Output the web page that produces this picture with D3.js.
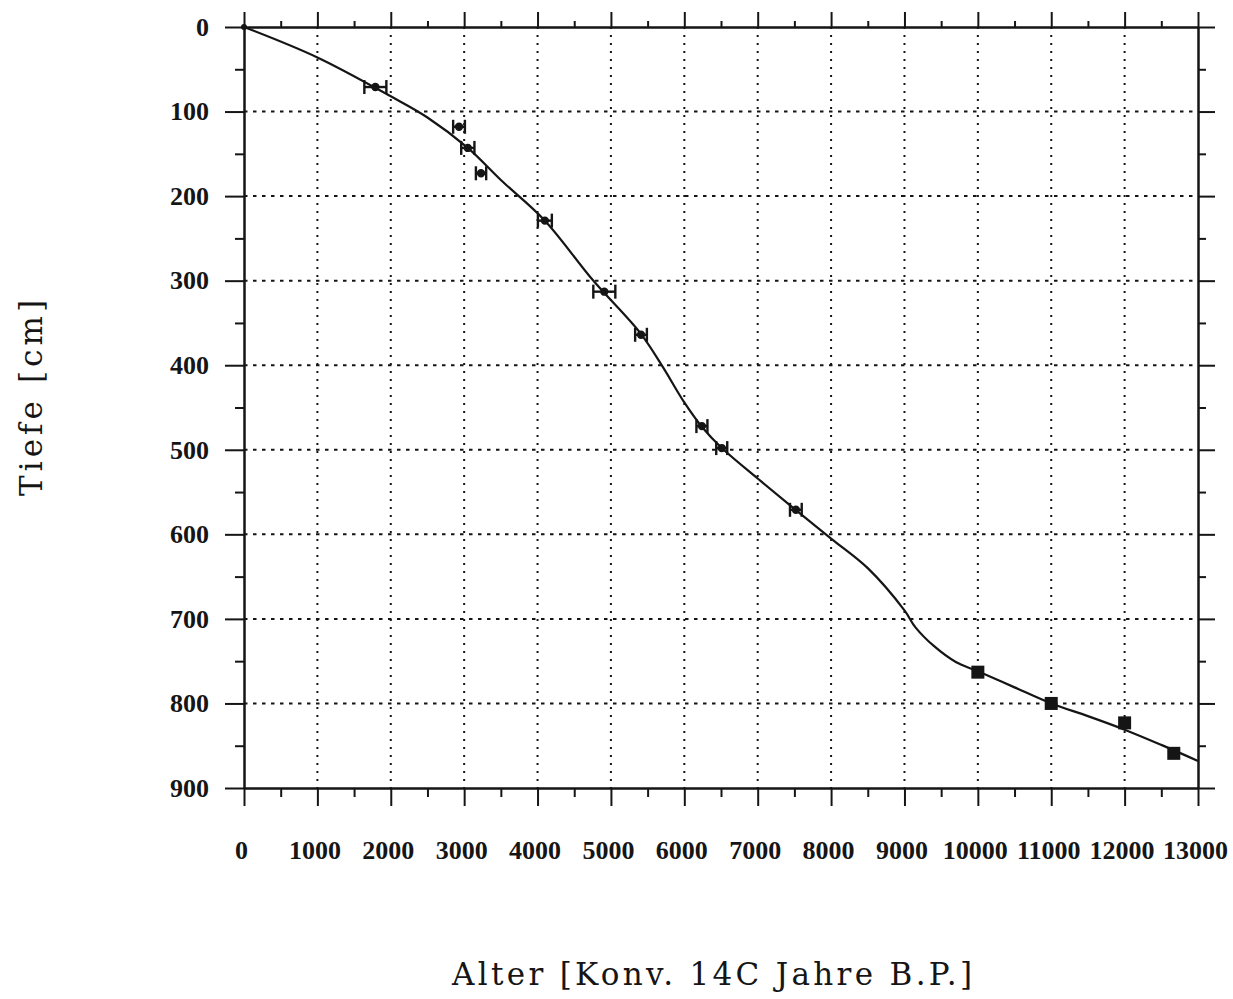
<!DOCTYPE html>
<html>
<head>
<meta charset="utf-8">
<script src="https://d3js.org/d3.v7.min.js"></script>
<style>
  body { margin: 0; background: #fff; }
</style>
</head>
<body>
<div id="chart"></div>
<script>
// age-depth curve (age in 14C years B.P., depth in cm)
var curveAge   = [0, 1000, 2000, 2500, 3050, 3500, 4100, 4750, 5400, 5700, 6000, 6250, 6500, 7000, 7500, 8000, 8500, 9000, 9150, 9400, 9700, 10000, 10500, 11000, 11500, 12000, 12500, 13000];
var curveDepth = [0, 36, 82, 107, 143, 181, 229, 299, 362, 401, 444, 474, 497, 534, 570, 605, 640, 690, 710, 732, 751, 762, 781, 800, 815, 831, 849, 868];

// 14C dates with error bars
var dateAge   = [1790, 2930, 3050, 3230, 4100, 4910, 5410, 6240, 6510, 7520];
var dateDepth = [71, 118, 143, 173, 229, 313, 364, 472, 498, 571];
var dateErr   = [150, 80, 90, 70, 95, 150, 80, 75, 75, 80];

// filled squares
var sqAge   = [10000, 11000, 12000, 12670];
var sqDepth = [763, 800, 823, 859];

var xTicks = d3.range(0, 13001, 1000);
var xMinor = d3.range(500, 13000, 1000);
var yTicks = d3.range(0, 901, 100);
var yMinor = d3.range(50, 900, 100);

var width = 1233, height = 999;
var ink = "#151515";

var svg = d3.select("#chart")
  .append("svg")
  .attr("width", width)
  .attr("height", height);

var x = d3.scaleLinear().domain([0, 13000]).range([244, 1198]);
var y = d3.scaleLinear().domain([0, 900]).range([27, 788]);

// grid: vertical dotted, horizontal dashed
svg.append("g")
  .selectAll("line")
  .data(xTicks.slice(1, -1))
  .enter().append("line")
  .attr("x1", function(d) { return x(d); })
  .attr("x2", function(d) { return x(d); })
  .attr("y1", y(0)).attr("y2", y(900))
  .attr("stroke", ink)
  .attr("stroke-width", 2)
  .attr("stroke-dasharray", "2,6");

svg.append("g")
  .selectAll("line")
  .data(yTicks.slice(1, -1))
  .enter().append("line")
  .attr("x1", x(0)).attr("x2", x(13000))
  .attr("y1", function(d) { return y(d); })
  .attr("y2", function(d) { return y(d); })
  .attr("stroke", ink)
  .attr("stroke-width", 2)
  .attr("stroke-dasharray", "3.5,5.5");

// axes
function styleAxis(g) {
  g.selectAll("path, line").attr("stroke", ink).attr("stroke-width", 2);
  g.selectAll("text").attr("fill", ink)
    .style("font-family", "'Liberation Serif', serif")
    .style("font-weight", "bold")
    .style("font-size", "26px");
}

svg.append("g")
  .attr("transform", "translate(0," + y(0) + ")")
  .call(d3.axisTop(x).tickValues(xTicks).tickSize(15).tickSizeOuter(0).tickFormat(""))
  .call(styleAxis);
svg.append("g")
  .attr("transform", "translate(0," + y(0) + ")")
  .call(d3.axisTop(x).tickValues(xMinor).tickSize(6).tickSizeOuter(0).tickFormat(""))
  .call(styleAxis);

var xAxisG = svg.append("g")
  .attr("transform", "translate(0," + y(900) + ")")
  .call(d3.axisBottom(x).tickValues(xTicks).tickSize(18).tickSizeOuter(0).tickPadding(35).tickFormat(d3.format("d")))
  .call(styleAxis);
xAxisG.selectAll(".tick text").attr("x", -3);
svg.append("g")
  .attr("transform", "translate(0," + y(900) + ")")
  .call(d3.axisBottom(x).tickValues(xMinor).tickSize(9).tickSizeOuter(0).tickFormat(""))
  .call(styleAxis);

svg.append("g")
  .attr("transform", "translate(" + x(0) + ",0)")
  .call(d3.axisLeft(y).tickValues(yTicks).tickSize(19).tickSizeOuter(0).tickPadding(16).tickFormat(d3.format("d")))
  .call(styleAxis);
svg.append("g")
  .attr("transform", "translate(" + x(0) + ",0)")
  .call(d3.axisLeft(y).tickValues(yMinor).tickSize(9).tickSizeOuter(0).tickFormat(""))
  .call(styleAxis);

svg.append("g")
  .attr("transform", "translate(" + x(13000) + ",0)")
  .call(d3.axisRight(y).tickValues(yTicks).tickSize(17).tickSizeOuter(0).tickFormat(""))
  .call(styleAxis);
svg.append("g")
  .attr("transform", "translate(" + x(13000) + ",0)")
  .call(d3.axisRight(y).tickValues(yMinor).tickSize(8).tickSizeOuter(0).tickFormat(""))
  .call(styleAxis);

// the curve
var line = d3.line()
  .x(function(d, i) { return x(curveAge[i]); })
  .y(function(d, i) { return y(curveDepth[i]); })
  .curve(d3.curveCatmullRom.alpha(0.5));

svg.append("path")
  .attr("d", line(curveAge))
  .attr("fill", "none")
  .attr("stroke", ink)
  .attr("stroke-width", 2.2);

// error bars
var eb = svg.append("g").attr("stroke", ink).attr("stroke-width", 2.4);
dateAge.forEach(function(a, i) {
  var cy = y(dateDepth[i]);
  var x1 = x(a - dateErr[i]), x2 = x(a + dateErr[i]);
  eb.append("line").attr("x1", x1).attr("x2", x2).attr("y1", cy).attr("y2", cy);
  eb.append("line").attr("x1", x1).attr("x2", x1).attr("y1", cy - 7).attr("y2", cy + 7);
  eb.append("line").attr("x1", x2).attr("x2", x2).attr("y1", cy - 7).attr("y2", cy + 7);
  eb.append("circle").attr("cx", x(a)).attr("cy", cy).attr("r", 3).attr("fill", ink);
});

// squares
svg.append("g")
  .selectAll("rect")
  .data(sqAge)
  .enter().append("rect")
  .attr("x", function(d) { return x(d) - 6.5; })
  .attr("y", function(d, i) { return y(sqDepth[i]) - 6.5; })
  .attr("width", 13).attr("height", 13)
  .attr("fill", ink);

// origin dot
svg.append("circle").attr("cx", x(0)).attr("cy", y(0)).attr("r", 3).attr("fill", ink);

// axis titles
svg.append("text")
  .attr("x", 712).attr("y", 985)
  .attr("text-anchor", "middle")
  .attr("textLength", 520)
  .attr("lengthAdjust", "spacing")
  .style("font-family", "'DejaVu Serif', serif")
  .style("font-size", "31px")
  .attr("fill", ink)
  .text("Alter [Konv. 14C Jahre B.P.]");

svg.append("text")
  .attr("transform", "translate(42,398) rotate(-90)")
  .attr("text-anchor", "middle")
  .attr("textLength", 196)
  .attr("lengthAdjust", "spacing")
  .style("font-family", "'DejaVu Serif', serif")
  .style("font-size", "31px")
  .attr("fill", ink)
  .text("Tiefe [cm]");
</script>
</body>
</html>
